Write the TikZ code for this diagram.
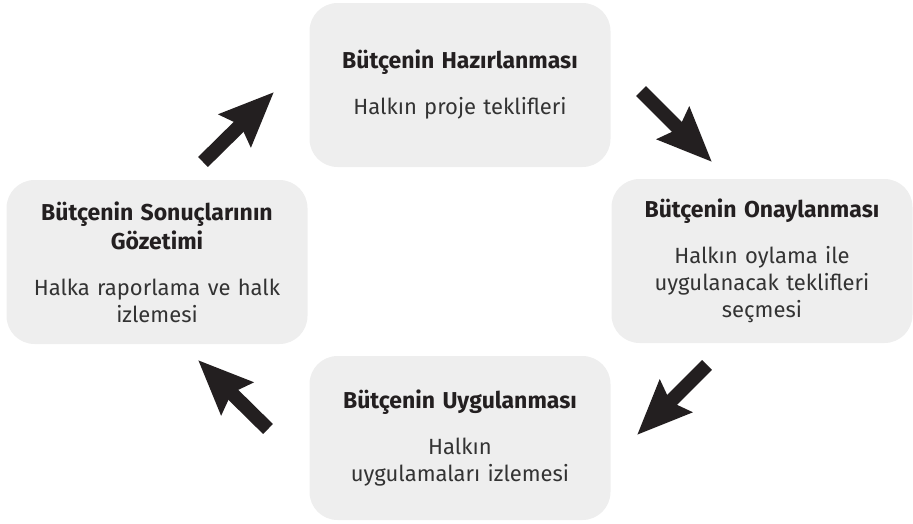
\documentclass[tikz,border=0pt]{standalone}
\usepackage{fontspec}
\setmainfont{Fira Sans}
\usetikzlibrary{positioning, arrows.meta}

\definecolor{boxgray}{HTML}{EEEEEE}
\definecolor{titleink}{HTML}{231F20}
\definecolor{bodyink}{HTML}{333333}
\newcommand{\stagetitle}[1]{{\fontsize{23}{28}\selectfont\bfseries\color{titleink}#1}}

\begin{document}
\begin{tikzpicture}[
        x = 1pt, y = -1pt, % pixel units, y downwards
        > = {Stealth[length = 54pt, width = 44pt, inset = 7pt]}, % arrow head style
        on grid % distances between box centres
    ]
    \useasboundingbox (0,0) rectangle (913,523);

    \tikzstyle{stagebox}=[fill = boxgray, rounded corners = 28pt,
    minimum width = 301pt, minimum height = 164pt, text width = 290pt,
    align = center, inner sep = 0pt, text = bodyink,
    font = \fontsize{22}{27}\selectfont]
    \tikzstyle{cyclearrow}=[->, line width = 14pt, draw = titleink]

    \node[stagebox] (hazir) at (460,85) {\stagetitle{Bütçenin Hazırlanması}\\[19pt]
    Halkın proje teklifleri};
    \node[stagebox] (onay) [below right = 176pt and 302pt of hazir]
    {\stagetitle{Bütçenin Onaylanması}\\[19pt] Halkın oylama ile\\
    uygulanacak teklifleri\\ seçmesi};
    \node[stagebox] (uygula) [below = 353pt of hazir]
    {\stagetitle{Bütçenin Uygulanması}\\[19pt] Halkın\\ uygulamaları izlemesi};
    \node[stagebox] (gozetim) [below left = 177pt and 303pt of hazir]
    {\stagetitle{Bütçenin Sonuçlarının}\\[2pt] \stagetitle{Gözetimi}\\[19pt]
    Halka raporlama ve halk\\ izlemesi};

    \coordinate (gh-a) at (203,162); \coordinate (gh-b) at (274,92);
    \coordinate (ho-a) at (641,91); \coordinate (ho-b) at (712,162);
    \coordinate (ou-a) at (707,365); \coordinate (ou-b) at (637,435);
    \coordinate (ug-a) at (268,429); \coordinate (ug-b) at (198,360);

    \draw[cyclearrow] (gh-a) -- (gh-b); \draw[cyclearrow] (ho-a) -- (ho-b);
    \draw[cyclearrow] (ou-a) -- (ou-b); \draw[cyclearrow] (ug-a) -- (ug-b);

\end{tikzpicture}
\end{document}
